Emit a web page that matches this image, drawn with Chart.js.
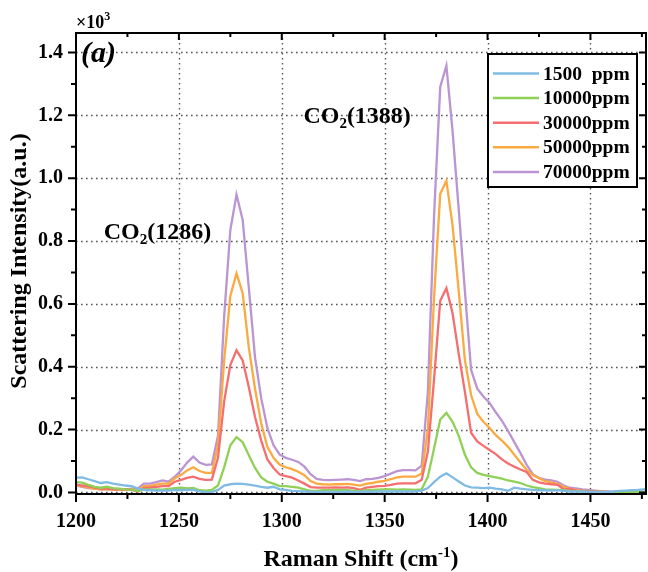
<!DOCTYPE html>
<html>
<head>
<meta charset="utf-8">
<script src="https://cdn.jsdelivr.net/npm/chart.js@4.4.1/dist/chart.umd.min.js"></script>
<style>
  html, body { margin: 0; padding: 0; background: #fff; }
</style>
</head>
<body>
<canvas id="raman" width="648" height="572"></canvas>
<script>
// Raman shift (cm-1)
const shifts = [1200,1203,1206,1209,1212,1215,1218,1221,1224,1227,
  1230,1233,1236,1239,1242,1245,1248,1251,1254,1257,
  1260,1263,1266,1269,1272,1275,1278,1281,1284,1287,
  1290,1293,1296,1299,1302,1305,1308,1311,1314,1317,
  1320,1323,1326,1329,1332,1335,1338,1341,1344,1347,
  1350,1353,1356,1359,1362,1365,1368,1371,1374,1377,
  1380,1383,1386,1389,1392,1395,1398,1401,1404,1407,
  1410,1413,1416,1419,1422,1425,1428,1431,1434,1437,
  1440,1443,1446,1449,1452,1455,1458,1461,1464,1467,
  1470,1473,1476,1479];

// scattering intensity (a.u.)
const ppm1500 = [47,48,42,36,30,33,28,25,22,20,
  12,8,7,6,6,6,8,7,8,8,
  3,1,1,8,22,26,28,27,25,22,
  18,15,18,10,8,5,4,3,2,2,
  2,2,2,2,3,2,2,3,2,3,
  3,3,3,3,3,3,6,14,33,50,
  61,48,35,22,16,15,14,15,12,10,
  5,15,12,10,8,7,7,6,7,5,
  3,3,3,2,2,2,2,3,5,6,
  7,8,10,12];
const ppm10000 = [33,31,24,18,15,18,14,12,10,9,
  4,10,9,10,9,11,14,15,13,14,
  7,6,8,22,80,150,176,160,118,78,
  48,34,28,20,20,18,15,10,5,5,
  7,7,7,8,7,6,4,7,8,9,
  10,10,9,10,9,8,10,50,140,232,
  253,225,180,120,80,62,56,52,48,44,
  38,34,30,22,17,14,10,9,8,7,
  5,4,3,2,2,1,1,1,1,1,
  1,1,1,1];
const ppm30000 = [26,22,20,15,12,12,10,10,10,9,
  2,14,15,18,20,20,34,40,46,50,
  43,40,41,110,290,405,452,420,335,240,
  165,105,78,57,52,47,38,28,17,15,
  15,15,16,15,16,14,8,15,18,20,
  21,24,28,29,29,29,40,130,360,610,
  650,570,440,320,190,162,148,135,122,105,
  92,82,73,65,40,32,28,26,24,10,
  12,6,5,4,3,2,1,1,1,1,
  1,1,1,1];
const ppm50000 = [22,20,15,12,10,10,9,9,8,10,
  6,20,20,25,28,28,45,55,70,80,
  68,62,62,150,420,625,697,634,460,330,
  220,145,110,88,80,74,66,55,36,28,
  26,25,26,26,27,25,22,27,30,34,
  37,42,48,50,50,50,60,200,620,950,
  992,850,640,420,310,250,225,205,182,165,
  145,120,95,72,55,45,36,32,27,18,
  12,8,6,5,4,3,2,1,1,1,
  1,1,1,1];
const ppm70000 = [22,18,14,12,10,10,10,10,10,12,
  12,28,28,33,38,34,50,70,95,114,
  95,88,89,180,560,835,948,867,650,430,
  300,205,150,120,110,104,97,82,58,43,
  40,39,40,41,42,40,36,42,43,46,
  52,60,68,71,71,70,85,320,880,1290,
  1358,1150,900,640,390,330,305,285,255,228,
  195,160,125,88,58,46,41,38,34,22,
  15,13,10,8,6,4,3,2,1,1,
  1,2,2,2];

const seriesLabels = ['1500  ppm', '10000ppm', '30000ppm', '50000ppm', '70000ppm'];
const seriesColors = ['#7fbbe3', '#8fd056', '#f56e70', '#fbaa42', '#bb94d2'];

const xTicks = [1200, 1250, 1300, 1350, 1400, 1450];
const xMinor = [1225, 1275, 1325, 1375, 1425, 1475];
const yTicks = [0, 200, 400, 600, 800, 1000, 1200, 1400];
const yTickLabels = ['0.0', '0.2', '0.4', '0.6', '0.8', '1.0', '1.2', '1.4'];
const yMinor = [100, 300, 500, 700, 900, 1100, 1300];

const serif = '"Liberation Serif", "Times New Roman", serif';

function drawSup(ctx, parts, x, y) {
  // parts: [text, size, dy]
  let cx = x;
  parts.forEach(([t, size, dy, style]) => {
    ctx.font = (style || 'bold') + ' ' + size + 'px ' + serif;
    ctx.fillText(t, cx, y + dy);
    cx += ctx.measureText(t).width;
  });
  return cx - x;
}

function partsWidth(ctx, parts) {
  let w = 0;
  parts.forEach(([t, size, dy, style]) => {
    ctx.font = (style || 'bold') + ' ' + size + 'px ' + serif;
    w += ctx.measureText(t).width;
  });
  return w;
}

const originFrame = {
  id: 'originFrame',
  beforeDatasetsDraw(chart) {
    const { ctx, chartArea: a, scales: { x, y } } = chart;
    ctx.save();
    ctx.strokeStyle = '#555';
    ctx.lineWidth = 1.4;
    ctx.setLineDash([1.6, 3.4]);
    ctx.beginPath();
    xTicks.slice(1).forEach(v => {
      const px = Math.round(x.getPixelForValue(v)) + 0.5;
      ctx.moveTo(px, a.top); ctx.lineTo(px, a.bottom);
    });
    yTicks.forEach(v => {
      const py = Math.round(y.getPixelForValue(v)) + 0.5;
      ctx.moveTo(a.left, py); ctx.lineTo(a.right, py);
    });
    ctx.stroke();
    ctx.restore();
  },
  afterDatasetsDraw(chart) {
    const { ctx, chartArea: a, scales: { x, y } } = chart;
    ctx.save();
    ctx.strokeStyle = '#000';
    ctx.lineWidth = 2;
    ctx.strokeRect(a.left, a.top, a.right - a.left, a.bottom - a.top);

    ctx.beginPath();
    xTicks.forEach(v => {
      const px = x.getPixelForValue(v);
      ctx.moveTo(px, a.bottom); ctx.lineTo(px, a.bottom + 8);
      ctx.moveTo(px, a.top); ctx.lineTo(px, a.top + 7);
    });
    xMinor.forEach(v => {
      const px = x.getPixelForValue(v);
      ctx.moveTo(px, a.bottom); ctx.lineTo(px, a.bottom + 5);
      ctx.moveTo(px, a.top); ctx.lineTo(px, a.top + 4);
    });
    yTicks.forEach(v => {
      const py = y.getPixelForValue(v);
      ctx.moveTo(a.left, py); ctx.lineTo(a.left - 8, py);
      ctx.moveTo(a.right, py); ctx.lineTo(a.right - 7, py);
    });
    yMinor.forEach(v => {
      const py = y.getPixelForValue(v);
      ctx.moveTo(a.left, py); ctx.lineTo(a.left - 5, py);
      ctx.moveTo(a.right, py); ctx.lineTo(a.right - 4, py);
    });
    ctx.stroke();

    // legend
    ctx.fillStyle = '#fff';
    ctx.fillRect(488, 54, 149, 133);
    ctx.strokeStyle = '#000';
    ctx.lineWidth = 2;
    ctx.strokeRect(488, 54, 149, 133);
    ctx.textBaseline = 'middle';
    chart.data.datasets.forEach((ds, i) => {
      const ly = 73.5 + i * 24.6;
      ctx.strokeStyle = ds.borderColor;
      ctx.lineWidth = 2.5;
      ctx.beginPath();
      ctx.moveTo(493, ly); ctx.lineTo(539, ly);
      ctx.stroke();
      ctx.fillStyle = '#000';
      ctx.font = 'bold 19.5px ' + serif;
      ctx.fillText(ds.label, 543, ly + 1);
    });

    // peak labels
    ctx.textBaseline = 'alphabetic';
    ctx.fillStyle = '#000';
    [['1286', 1213.5, 806], ['1388', 1310.5, 1175]].forEach(([t, vx, vy]) => {
      drawSup(ctx, [['CO', 24, 0], ['2', 15, 5], ['(' + t + ')', 24, 0]],
        x.getPixelForValue(vx), y.getPixelForValue(vy));
    });
    ctx.restore();
  },
  afterDraw(chart) {
    const { ctx, chartArea: a } = chart;
    ctx.save();
    ctx.fillStyle = '#000';
    ctx.textBaseline = 'alphabetic';
    // panel tag and multiplier
    ctx.font = 'italic bold 30px ' + serif;
    ctx.fillText('(a)', a.left + 5, 62);
    drawSup(ctx, [['\u00d710', 18, 0], ['3', 12, -8]], a.left, 28);

    // x title
    const xt = [['Raman Shift (cm', 24, 0], ['-1', 15, -9], [')', 24, 0]];
    const w = partsWidth(ctx, xt);
    drawSup(ctx, xt, 361 - w / 2, 566);

    // y title
    ctx.translate(26, 261);
    ctx.rotate(-Math.PI / 2);
    ctx.font = 'bold 24px ' + serif;
    ctx.textAlign = 'center';
    ctx.fillText('Scattering Intensity(a.u.)', 0, 0);
    ctx.restore();
  }
};

const series = [ppm1500, ppm10000, ppm30000, ppm50000, ppm70000];

new Chart(document.getElementById('raman'), {
  type: 'line',
  data: {
    datasets: series.map((vals, i) => ({
      label: seriesLabels[i],
      data: shifts.map((s, j) => ({ x: s, y: vals[j] })),
      borderColor: seriesColors[i],
      borderWidth: 2.3,
      pointRadius: 0,
      tension: 0,
      fill: false
    }))
  },
  options: {
    responsive: false,
    animation: false,
    devicePixelRatio: 1,
    layout: { padding: { top: 33, right: 2, left: 0, bottom: 0 } },
    plugins: { legend: { display: false }, tooltip: { enabled: false } },
    scales: {
      x: {
        type: 'linear',
        min: 1200,
        max: 1477,
        afterBuildTicks: s => { s.ticks = xTicks.map(v => ({ value: v })); },
        afterFit: s => { s.height = 78; },
        grid: { display: false, drawTicks: false },
        border: { display: false },
        ticks: {
          color: '#000',
          padding: 16,
          maxRotation: 0,
          autoSkip: false,
          font: { family: serif, size: 20, weight: 'bold' },
          callback: v => String(v)
        }
      },
      y: {
        min: -5,
        max: 1462,
        afterBuildTicks: s => { s.ticks = yTicks.map(v => ({ value: v })); },
        afterFit: s => { s.width = 76; },
        grid: { display: false, drawTicks: false },
        border: { display: false },
        ticks: {
          color: '#000',
          padding: 13,
          autoSkip: false,
          font: { family: serif, size: 20, weight: 'bold' },
          callback: v => yTickLabels[yTicks.indexOf(v)]
        }
      }
    }
  },
  plugins: [originFrame]
});
</script>
</body>
</html>
